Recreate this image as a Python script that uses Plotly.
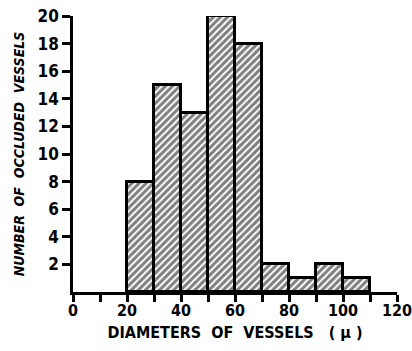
import plotly.graph_objects as go

bin_starts = [20, 30, 40, 50, 60, 70, 80, 90, 100]
counts = [8, 15, 13, 20, 18, 2, 1, 2, 1]
bin_width = 10
x_tickvals = list(range(0, 121, 10))
x_ticktext = ["0", "", "20", "", "40", "", "60", "", "80", "", "100", "", "120"]
y_tickvals = list(range(2, 21, 2))

FONT = "Liberation Sans Narrow, DejaVu Sans Condensed, Arial Narrow, sans-serif"

fig = go.Figure()
fig.add_trace(go.Bar(
    x=[s + bin_width / 2 for s in bin_starts],
    y=counts,
    width=[bin_width] * len(counts),
    marker=dict(
        color="white",
        line=dict(color="black", width=3),
        pattern=dict(shape="/", fgcolor="black", bgcolor="white", size=5, solidity=0.6),
    ),
    showlegend=False,
))

fig.update_layout(
    width=412, height=351,
    margin=dict(l=73, r=15, t=16, b=59),
    paper_bgcolor="white", plot_bgcolor="white",
    bargap=0,
    font=dict(family=FONT, color="black"),
    xaxis=dict(
        range=[0, 120], tickmode="array", tickvals=x_tickvals, ticktext=x_ticktext,
        ticks="outside", ticklen=7, tickwidth=2.5, tickcolor="black",
        showline=True, linecolor="black", linewidth=2.5, showgrid=False, zeroline=False,
        ticklabeloverflow="allow", automargin=False, ticklabelstandoff=-5,
        tickfont=dict(size=16, family=FONT, weight="bold"),
        title=dict(text="DIAMETERS  OF  VESSELS   ( μ )", font=dict(size=16, family=FONT, weight="bold"), standoff=8),
    ),
    yaxis=dict(
        range=[0, 20], tickmode="array", tickvals=y_tickvals,
        ticks="outside", ticklen=8, tickwidth=2.5, tickcolor="black",
        showline=True, linecolor="black", linewidth=2.5, showgrid=False, zeroline=False,
        ticklabeloverflow="allow", automargin=False,
        tickfont=dict(size=17, family=FONT, weight="bold"),
        title=dict(text="NUMBER  OF  OCCLUDED  VESSELS", font=dict(size=14, family=FONT, weight="bold", style="italic"), standoff=10),
    ),
)

fig.write_html("out.html")
